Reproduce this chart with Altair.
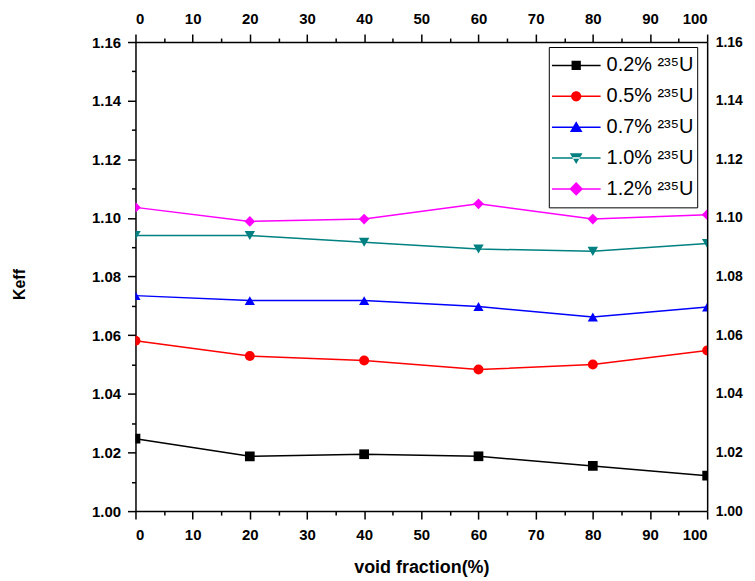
import altair as alt
import pandas as pd

# ---- data ----
VOID = [0, 20, 40, 60, 80, 100]
SERIES = ["0.2% ²³⁵U", "0.5% ²³⁵U", "0.7% ²³⁵U", "1.0% ²³⁵U", "1.2% ²³⁵U"]
K_02 = [1.0247, 1.0187, 1.0194, 1.0187, 1.0154, 1.0121]
K_05 = [1.0581, 1.0529, 1.0514, 1.0483, 1.0500, 1.0548]
K_07 = [1.0735, 1.0718, 1.0718, 1.0698, 1.0662, 1.0696]
K_10 = [1.0940, 1.0940, 1.0917, 1.0894, 1.0886, 1.0913]
K_12 = [1.1036, 1.0988, 1.0996, 1.1048, 1.0996, 1.1011]
COLORS = ["#000000", "#ff0000", "#0000ff", "#008080", "#ff00ff"]
X_TICKS = [0, 5, 10, 15, 20, 25, 30, 35, 40, 45, 50, 55, 60, 65, 70, 75, 80, 85, 90, 95, 100]
Y_TICKS = [1.00, 1.01, 1.02, 1.03, 1.04, 1.05, 1.06, 1.07, 1.08, 1.09, 1.10,
           1.11, 1.12, 1.13, 1.14, 1.15, 1.16]

rows = []
for name, vals in zip(SERIES, [K_02, K_05, K_07, K_10, K_12]):
    for v, k in zip(VOID, vals):
        rows.append({"void": v, "keff": k, "series": name})
df = pd.DataFrame(rows)

FONT = "Liberation Sans"

# marker shapes in plot
PLOT_SHAPES = ["square", "circle", "triangle-up", "triangle-down", "diamond"]
PLOT_SIZES = [95, 115, 160, 160, 170]
# legend symbols: thin filled bar (line) + marker; unit = half symbol width
BAR = "M-1,-0.032H1V0.032H-1Z"
LEG_SHAPES = [
    BAR + "M-0.19,-0.19H0.19V0.19H-0.19Z",
    BAR + "M-0.21,0A0.21,0.21,0,1,1,0.21,0A0.21,0.21,0,1,1,-0.21,0Z",
    BAR + "M0,-0.24L0.26,0.2L-0.26,0.2Z",
    BAR + "M0,0.24L0.26,-0.2L-0.26,-0.2Z",
    BAR + "M-0.28,0L0,-0.28L0.28,0L0,0.28Z",
]

xscale = alt.Scale(domain=[0, 100], nice=False)
yscale = alt.Scale(domain=[1.0, 1.16], zero=False, nice=False)

x_major = "datum.value % 10 == 0"
y_major = "round(datum.value * 100) % 2 == 0"

common_axis = dict(
    grid=False, domainColor="black", domainWidth=1.5, tickColor="black",
    tickWidth=1.5, labelFont=FONT, labelFontWeight="bold",
    labelColor="black",
)

x_bottom = alt.Axis(
    orient="bottom", values=X_TICKS, format="d",
    labelExpr=f"{x_major} ? datum.label : ''",
    tickSize={"condition": {"test": x_major, "value": 8}, "value": 4},
    labelPadding=9, labelFontSize=15, title="void fraction(%)", titleFont=FONT,
    titleFontSize=18, titleFontWeight="bold", titleColor="black", titleY=57,
    titleBaseline="middle",
    **common_axis,
)
x_top = alt.Axis(
    orient="top", values=X_TICKS, format="d",
    labelExpr=f"{x_major} ? datum.label : ''",
    tickSize={"condition": {"test": x_major, "value": 8}, "value": 4},
    labelPadding=8, labelFontSize=15, title=None, **common_axis,
)
y_left = alt.Axis(
    orient="left", values=Y_TICKS, format=".2f",
    labelExpr=f"{y_major} ? datum.label : ''",
    tickSize={"condition": {"test": y_major, "value": 8}, "value": 4},
    labelPadding=7, labelFontSize=15, title="Keff", titleFont=FONT,
    titleFontSize=16, titleFontWeight="bold", titleColor="black", titleX=-116,
    titleY=243, titleBaseline="middle", titleAngle=270,
    **common_axis,
)
y_right = alt.Axis(
    orient="right", values=Y_TICKS, format=".2f",
    labelExpr=f"{y_major} ? datum.label : ''",
    ticks=False, labelPadding=8, labelFontSize=14, title=None, **common_axis,
)

legend = alt.Legend(
    orient="none", legendX=415, legendY=5, title=None,
    labelFont=FONT, labelFontSize=20, labelColor="black",
    symbolSize=2401, symbolStrokeWidth=0, clipHeight=31, rowPadding=0,
    labelOffset=6, padding=3, strokeColor="black", fillColor="white",
    symbolOffset=0, symbolOpacity=1,
)

base = alt.Chart(df)

lines = base.mark_line(strokeWidth=1.5, clip=True).encode(
    x=alt.X("void:Q", scale=xscale, axis=x_bottom),
    y=alt.Y("keff:Q", scale=yscale, axis=y_left),
    color=alt.Color("series:N", scale=alt.Scale(domain=SERIES, range=COLORS), legend=None),
    detail="series:N",
)

points = base.mark_point(filled=True, opacity=1, clip=True).encode(
    x=alt.X("void:Q", scale=xscale, axis=x_top),
    y=alt.Y("keff:Q", scale=yscale, axis=y_right),
    color=alt.Color("series:N", scale=alt.Scale(domain=SERIES, range=COLORS), legend=None),
    shape=alt.Shape("series:N", scale=alt.Scale(domain=SERIES, range=PLOT_SHAPES), legend=None),
    size=alt.Size("series:N", scale=alt.Scale(domain=SERIES, range=PLOT_SIZES), legend=None),
)

legend_layer = base.mark_point(filled=True, opacity=0, fillOpacity=1, clip=True).encode(
    x=alt.X("void:Q", scale=xscale, axis=None),
    y=alt.Y("keff:Q", scale=yscale, axis=None),
    color=alt.Color("series:N", scale=alt.Scale(domain=SERIES, range=COLORS), legend=legend, sort=SERIES),
    shape=alt.Shape("series:N", scale=alt.Scale(domain=SERIES, range=LEG_SHAPES), legend=legend, sort=SERIES),
)

chart = (
    alt.layer(lines, points, legend_layer)
    .resolve_scale(color="independent", shape="independent", size="independent")
    .properties(
        width=574, height=471,
        autosize=alt.AutoSizeParams(type="none"),
        padding={"left": 128, "top": 33, "right": 40, "bottom": 68},
        background="white",
    )
    .configure_view(stroke=None)
)

chart.save("out.html", embed_options={"renderer": "svg", "actions": False})
